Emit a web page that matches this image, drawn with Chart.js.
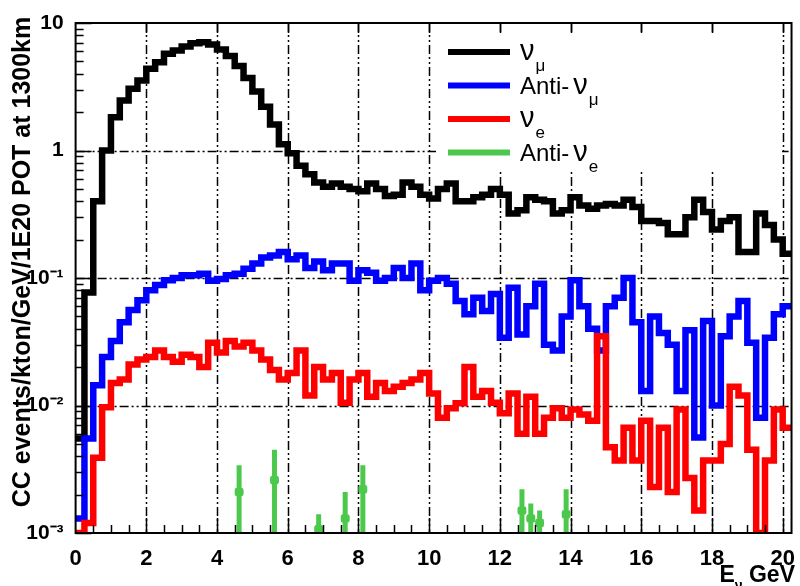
<!DOCTYPE html>
<html>
<head>
<meta charset="utf-8">
<script src="https://cdn.jsdelivr.net/npm/chart.js@4.4.1/dist/chart.umd.min.js"></script>
<style>
    html, body { margin: 0; padding: 0; background: #fff; }
</style>
</head>
<body>
<canvas id="fluxChart" width="800" height="586"></canvas>
<script>
// histogram bins: 0.25 GeV wide, left edges 0 .. 20.0
const binWidth = 0.25;

const numuValues = [
    0.0055, 0.077, 0.40, 1.0, 1.82, 2.47, 3.05, 3.54, 4.37, 4.93, 5.73, 6.08, 6.54, 6.95, 7.05, 6.78,
    6.2, 5.5, 4.6, 3.7, 2.9, 2.2, 1.6, 1.12, 0.95, 0.76, 0.65, 0.56, 0.52, 0.55, 0.52, 0.50,
    0.48, 0.55, 0.50, 0.44, 0.45, 0.56, 0.52, 0.45, 0.42, 0.50, 0.55, 0.40, 0.40, 0.43, 0.45, 0.50,
    0.45, 0.32, 0.34, 0.43, 0.41, 0.40, 0.32, 0.34, 0.43, 0.37, 0.35, 0.37, 0.38, 0.37, 0.41, 0.36,
    0.28, 0.28, 0.27, 0.22, 0.22, 0.30, 0.41, 0.33, 0.24, 0.28, 0.30, 0.16, 0.16, 0.32, 0.26, 0.20,
    0.155,
];

const antiNumuValues = [
    0.0013, 0.0055, 0.0144, 0.024, 0.032, 0.045, 0.056, 0.067, 0.08, 0.088, 0.096, 0.10, 0.105, 0.105, 0.108, 0.095,
    0.098, 0.105, 0.108, 0.118, 0.13, 0.145, 0.15, 0.16, 0.14, 0.15, 0.12, 0.135, 0.115, 0.13, 0.13, 0.095,
    0.115, 0.11, 0.095, 0.10, 0.12, 0.10, 0.13, 0.08, 0.095, 0.10, 0.09, 0.066, 0.052, 0.07, 0.055, 0.075,
    0.034, 0.084, 0.036, 0.06, 0.09, 0.03, 0.027, 0.05, 0.096, 0.06, 0.04, 0.027, 0.06, 0.07, 0.10, 0.045,
    0.013, 0.05, 0.037, 0.03, 0.013, 0.039, 0.0056, 0.046, 0.01, 0.035, 0.05, 0.066, 0.031, 0.008, 0.034, 0.052,
    0.06,
];

const nueValues = [
    0.001, 0.0012, 0.0039, 0.0097, 0.015, 0.016, 0.021, 0.023, 0.024, 0.027, 0.024, 0.022, 0.025, 0.024, 0.02, 0.031,
    0.026, 0.032, 0.029, 0.031, 0.027, 0.023, 0.019, 0.016, 0.018, 0.027, 0.012, 0.02, 0.016, 0.018, 0.0105, 0.016,
    0.018, 0.0117, 0.015, 0.013, 0.014, 0.015, 0.016, 0.018, 0.0124, 0.008, 0.0095, 0.0104, 0.02, 0.0117, 0.013, 0.0105,
    0.0087, 0.0124, 0.006, 0.0117, 0.006, 0.008, 0.0095, 0.008, 0.0093, 0.0085, 0.0076, 0.035, 0.0047, 0.0037, 0.0067, 0.0037,
    0.0076, 0.0023, 0.0067, 0.0021, 0.0093, 0.0027, 0.0015, 0.0037, 0.0037, 0.005, 0.014, 0.012, 0.0045, 0.001, 0.0037, 0.0093,
    0.0067,
];

// anti-nue: only a few filled bins show above 1e-3
const antiNueX = [4.625, 5.625, 6.875, 7.625, 8.125, 12.625, 12.875, 13.125, 13.875];
const antiNueY = [0.0021, 0.0026, 0.00107, 0.0013, 0.0022, 0.0015, 0.0013, 0.0012, 0.0014];
const antiNueHigh = [0.0034, 0.0045, 0.0014, 0.0021, 0.0034, 0.0022, 0.0017, 0.0015, 0.0022];
const antiNueLow = [0.0008, 0.0008, 0.0008, 0.0008, 0.0008, 0.0008, 0.0008, 0.0008, 0.0008];

const xTickValues = [0, 2, 4, 6, 8, 10, 12, 14, 16, 18, 20];
const yTickValues = [0.001, 0.01, 0.1, 1, 10];
const yTickLabels = ['10\u207B\u00B3', '10\u207B\u00B2', '10\u207B\u00B9', '1', '10'];

const legendItems = [
    { pre: '', main: '\u03BD', sub: '\u03BC', color: '#000000' },
    { pre: 'Anti-', main: '\u03BD', sub: '\u03BC', color: '#0000ff' },
    { pre: '', main: '\u03BD', sub: 'e', color: '#ff0000' },
    { pre: 'Anti-', main: '\u03BD', sub: 'e', color: '#4cc94c' },
];

const FONT = '"Liberation Sans", Arial, Helvetica, sans-serif';
const xMax = 20.25;

const toSteps = (values) => {
    const pts = values.map((v, i) => ({ x: i * binWidth, y: v }));
    pts.push({ x: values.length * binWidth, y: values[values.length - 1] });
    return pts;
};

const histDataset = (label, values, color, order) => ({
    label,
    data: toSteps(values),
    borderColor: color,
    backgroundColor: color,
    borderWidth: 6.5,
    borderJoinStyle: 'miter',
    pointRadius: 0,
    stepped: true,
    fill: false,
    order,
});

const fluxDecor = {
    id: 'fluxDecor',
    beforeDatasetsDraw(chart) {
        const { ctx, chartArea: a, scales: { x, y } } = chart;
        ctx.save();
        ctx.strokeStyle = '#000';
        ctx.lineWidth = 1.5;
        ctx.setLineDash([9, 3, 2, 3, 2, 3]);
        for (let v = 2; v <= 20; v += 2) {
            const px = Math.round(x.getPixelForValue(v)) + 0.5;
            ctx.beginPath();
            ctx.moveTo(px, a.top);
            ctx.lineTo(px, a.bottom);
            ctx.stroke();
        }
        [0.01, 0.1, 1].forEach((v) => {
            const py = Math.round(y.getPixelForValue(v)) + 0.5;
            ctx.beginPath();
            ctx.moveTo(a.left, py);
            ctx.lineTo(a.right, py);
            ctx.stroke();
        });
        ctx.restore();
    },
    afterDatasetsDraw(chart) {
        const { ctx, chartArea: a, scales: { x, y } } = chart;
        ctx.save();

        // anti-nue error bars
        ctx.beginPath();
        ctx.rect(a.left, a.top, a.right - a.left, a.bottom - a.top);
        ctx.clip();
        ctx.strokeStyle = '#4cc94c';
        ctx.lineWidth = 5;
        antiNueX.forEach((v, i) => {
            const px = x.getPixelForValue(v);
            ctx.beginPath();
            ctx.moveTo(px, y.getPixelForValue(antiNueLow[i]));
            ctx.lineTo(px, y.getPixelForValue(antiNueHigh[i]));
            ctx.stroke();
            const py = y.getPixelForValue(antiNueY[i]);
            ctx.beginPath();
            ctx.moveTo(x.getPixelForValue(v - binWidth / 2), py);
            ctx.lineTo(x.getPixelForValue(v + binWidth / 2), py);
            ctx.stroke();
        });
        ctx.restore();
        ctx.save();

        // legend box
        ctx.fillStyle = '#fff';
        ctx.fillRect(436, 34, 346, 137);
        legendItems.forEach((item, i) => {
            const ly = 52 + i * 33.5;
            ctx.strokeStyle = item.color;
            ctx.lineWidth = 6;
            ctx.beginPath();
            ctx.moveTo(448, ly);
            ctx.lineTo(510, ly);
            ctx.stroke();
            ctx.fillStyle = '#000';
            ctx.textBaseline = 'alphabetic';
            ctx.textAlign = 'left';
            let tx = 520;
            const base = ly + 8;
            if (item.pre) {
                ctx.font = `24px ${FONT}`;
                ctx.fillText(item.pre, tx, base);
                tx += ctx.measureText(item.pre).width + 4;
            }
            ctx.font = `29px ${FONT}`;
            ctx.fillText(item.main, tx, base);
            tx += ctx.measureText(item.main).width + 1;
            ctx.font = `17px ${FONT}`;
            ctx.fillText(item.sub, tx, base + 11);
        });

        // frame
        ctx.strokeStyle = '#000';
        ctx.lineWidth = 2;
        ctx.strokeRect(a.left, a.top, a.right - a.left, a.bottom - a.top);

        // tick marks
        ctx.lineWidth = 1.5;
        ctx.beginPath();
        for (let v = 0.5; v < xMax; v += 0.5) {
            const px = Math.round(x.getPixelForValue(v)) + 0.5;
            const len = v % 2 === 0 ? 15 : 8;
            ctx.moveTo(px, a.bottom);
            ctx.lineTo(px, a.bottom - len);
            if (v % 2 === 0) {
                ctx.moveTo(px, a.top);
                ctx.lineTo(px, a.top + 10);
            }
        }
        for (let d = -3; d <= 0; d++) {
            for (let m = 1; m <= 10; m++) {
                const py = Math.round(y.getPixelForValue(m * Math.pow(10, d))) + 0.5;
                const len = m === 1 || m === 10 ? 16 : 8;
                ctx.moveTo(a.left, py);
                ctx.lineTo(a.left + len, py);
            }
        }
        ctx.stroke();

        // axis titles
        ctx.fillStyle = '#000';
        ctx.save();
        ctx.translate(23, 262);
        ctx.rotate(-Math.PI / 2);
        ctx.textAlign = 'center';
        ctx.textBaseline = 'middle';
        ctx.font = `bold 25px ${FONT}`;
        ctx.fillText('CC events/kton/GeV/1E20 POT at 1300km', 0, 0);
        ctx.restore();

        ctx.textAlign = 'left';
        ctx.textBaseline = 'alphabetic';
        ctx.font = `bold 23px ${FONT}`;
        const gev = ' GeV';
        const gevW = ctx.measureText(gev).width;
        ctx.font = `bold 14px ${FONT}`;
        const nuW = ctx.measureText('\u03BD').width;
        ctx.font = `bold 23px ${FONT}`;
        const eW = ctx.measureText('E').width;
        let tx = 795 - gevW - nuW - eW;
        ctx.fillText('E', tx, 582);
        tx += eW;
        ctx.font = `bold 14px ${FONT}`;
        ctx.fillText('\u03BD', tx, 590);
        tx += nuW;
        ctx.font = `bold 23px ${FONT}`;
        ctx.fillText(gev, tx, 582);

        ctx.restore();
    },
};

const ctx = document.getElementById('fluxChart');

new Chart(ctx, {
    type: 'line',
    data: {
        datasets: [
            histDataset('\u03BD\u03BC', numuValues, '#000000', 4),
            histDataset('Anti-\u03BD\u03BC', antiNumuValues, '#0000ff', 3),
            histDataset('\u03BDe', nueValues, '#ff0000', 2),
            {
                label: 'Anti-\u03BDe',
                data: antiNueX.map((v, i) => ({ x: v, y: antiNueY[i] })),
                showLine: false,
                pointStyle: 'rect',
                pointRadius: 5,
                backgroundColor: '#4cc94c',
                borderColor: '#4cc94c',
                order: 1,
            },
        ],
    },
    options: {
        responsive: false,
        animation: false,
        layout: {
            padding: { top: 23, right: 4.3, left: 0, bottom: 0 },
        },
        plugins: {
            legend: { display: false },
            tooltip: { enabled: false },
        },
        scales: {
            x: {
                type: 'linear',
                min: 0,
                max: xMax,
                grid: { display: false },
                border: { display: false },
                afterBuildTicks: (scale) => {
                    scale.ticks = xTickValues.map((v) => ({ value: v }));
                },
                afterFit: (scale) => {
                    scale.height = 53;
                },
                ticks: {
                    autoSkip: false,
                    maxRotation: 0,
                    padding: 5,
                    color: '#000',
                    font: { family: FONT, size: 22, weight: 'bold' },
                },
            },
            y: {
                type: 'logarithmic',
                min: 0.001,
                max: 10,
                grid: { display: false },
                border: { display: false },
                afterBuildTicks: (scale) => {
                    scale.ticks = yTickValues.map((v) => ({ value: v }));
                },
                afterFit: (scale) => {
                    scale.width = 75.6;
                },
                ticks: {
                    autoSkip: false,
                    padding: 4,
                    color: '#000',
                    font: { family: FONT, size: 21, weight: 'bold' },
                    callback: (value, index) => yTickLabels[index],
                },
            },
        },
    },
    plugins: [fluxDecor],
});
</script>
</body>
</html>
